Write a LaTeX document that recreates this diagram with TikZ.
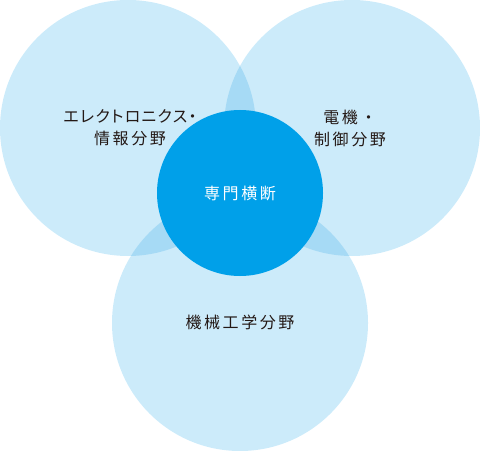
\documentclass[tikz,border=0pt]{standalone}
\usepackage{fontspec}
\newfontfamily\jpfont{Noto Sans CJK JP}[LetterSpace=16]
\definecolor{fieldblue}{HTML}{CCEBFA}
\definecolor{overlapblue}{HTML}{A6DAF5}
\definecolor{coreblue}{HTML}{00A0E9}
\definecolor{labelink}{HTML}{231815}
\tikzset{
  field/.style={fill=fieldblue},
  overlap/.style={fill=overlapblue},
  core/.style={fill=coreblue},
  fieldlabel/.style={font=\jpfont\fontsize{16bp}{22bp}\selectfont, text=labelink,
    align=center, inner sep=0pt},
  corelabel/.style={fieldlabel, text=white},
}
\newcommand{\fieldr}{128bp}

\begin{document}
\begin{tikzpicture}[x=1bp, y=-1bp]
  \useasboundingbox (0,0) rectangle (480,451);

  \coordinate (elecC) at (128,128);
  \coordinate (motorC) at (352,128);
  \coordinate (mechC) at (240,323);
  \coordinate (coreC) at (240,193);

  % three fields
  \fill[field] (elecC) circle[radius=\fieldr];
  \fill[field] (motorC) circle[radius=\fieldr];
  \fill[field] (mechC) circle[radius=\fieldr];

  % pairwise overlaps
  \begin{scope}
    \clip (elecC) circle[radius=\fieldr];
    \fill[overlap] (motorC) circle[radius=\fieldr];
    \fill[overlap] (mechC) circle[radius=\fieldr];
  \end{scope}
  \begin{scope}
    \clip (motorC) circle[radius=\fieldr];
    \fill[overlap] (mechC) circle[radius=\fieldr];
  \end{scope}

  % core
  \fill[core] (coreC) circle[radius=83bp];

  \node[fieldlabel] (eleclabel) at (130,128)
    {{\addfontfeatures{RawFeature=+palt,LetterSpace=8}エレクトロニクス・}\\情報分野};
  \node[fieldlabel] (motorlabel) at (350,128) {電機・\\制御分野};
  \node[fieldlabel] (mechlabel) at (240,322) {機械工学分野};
  \node[corelabel] (corelabel) at (240,193) {専門横断};
\end{tikzpicture}
\end{document}
